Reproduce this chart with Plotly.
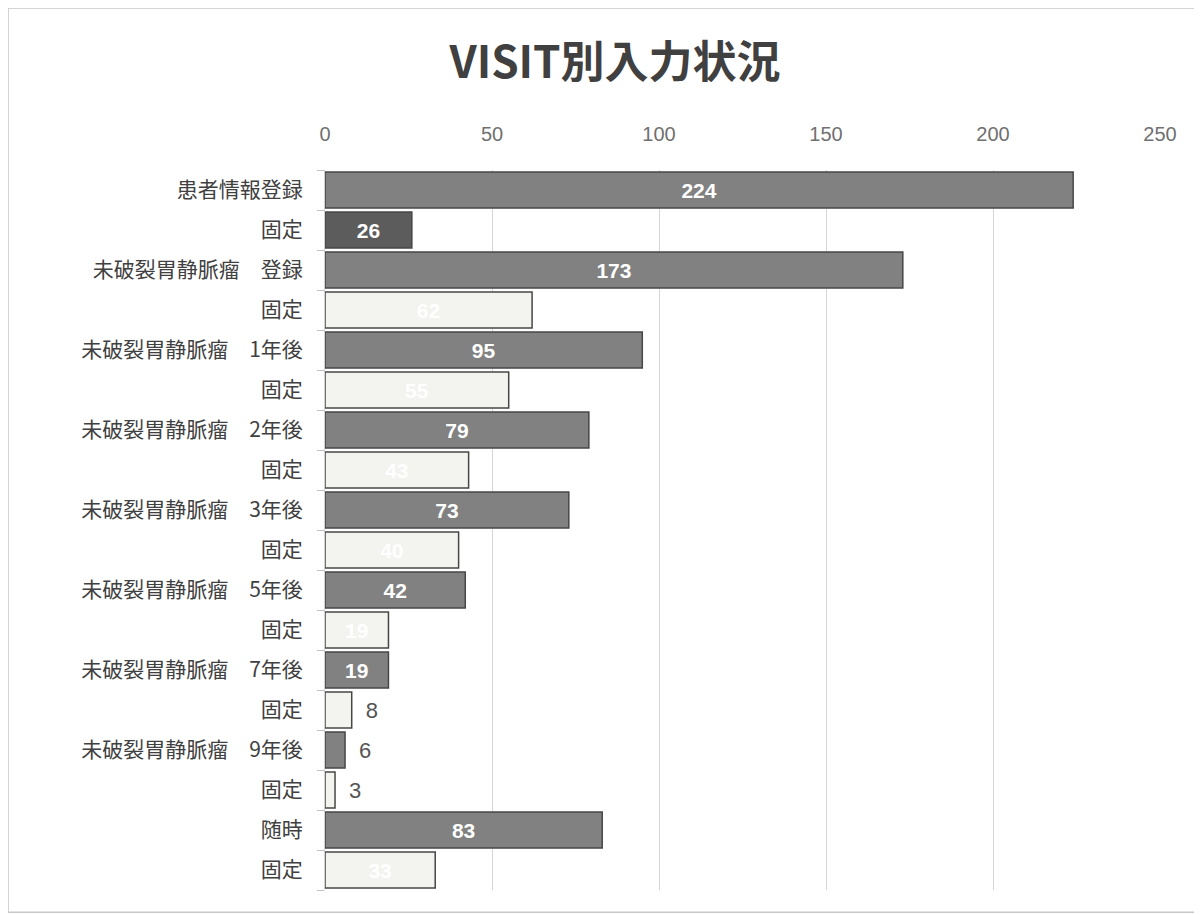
import plotly.graph_objects as go

categories = [
    "患者情報登録", "固定",
    "未破裂胃静脈瘤　登録", "固定",
    "未破裂胃静脈瘤　1年後", "固定",
    "未破裂胃静脈瘤　2年後", "固定",
    "未破裂胃静脈瘤　3年後", "固定",
    "未破裂胃静脈瘤　5年後", "固定",
    "未破裂胃静脈瘤　7年後", "固定",
    "未破裂胃静脈瘤　9年後", "固定",
    "随時", "固定",
]
values = [224, 26, 173, 62, 95, 55, 79, 43, 73, 40, 42, 19, 19, 8, 6, 3, 83, 33]
x_ticks = [0, 50, 100, 150, 200, 250]

positions = list(range(len(categories)))

def bar_color(i):
    if i == 1:
        return "#5c5c5c"
    if i % 2 == 0:
        return "#818181"
    return "#f3f3ef"

colors = [bar_color(i) for i in range(len(values))]
outside = [v < 10 for v in values]
text_pos = ["outside" if o else "inside" for o in outside]
labels = [("\u2002" + str(v)) if o else "<b>" + str(v) + "</b>" for v, o in zip(values, outside)]

fig = go.Figure(go.Bar(
    x=values,
    y=positions,
    orientation="h",
    marker=dict(color=colors, line=dict(color="#474747", width=1.5)),
    text=labels,
    textposition=text_pos,
    insidetextanchor="middle",
    textangle=0,
    outsidetextfont=dict(color="#555555", size=22, family="Liberation Sans, Arial, sans-serif"),
    insidetextfont=dict(color="white", size=21, family="Liberation Sans, Arial, sans-serif"),
    cliponaxis=False,
    width=0.9,
))

fig.update_layout(
    width=1202, height=915,
    paper_bgcolor="white", plot_bgcolor="white",
    margin=dict(l=317, r=50, t=162, b=33),
    title=dict(
        text="<b>VISIT別入力状況</b>",
        x=0.505, xanchor="center", y=0.94, yanchor="middle",
        font=dict(size=44, color="#404040", family="Noto Sans CJK JP, sans-serif"),
    ),
    showlegend=False,
    uniformtext=dict(mode=False),
    shapes=[dict(type="rect", xref="paper", yref="paper",
                 x0=-0.3796, x1=1.042, y0=-0.031, y1=1.225,
                 line=dict(color="#c8c8c8", width=1.5))],
)

fig.update_xaxes(
    range=[0, 250], side="top",
    tickvals=x_ticks, ticktext=[str(t) for t in x_ticks],
    tickfont=dict(size=20, color="#707070", family="Liberation Sans, Arial, sans-serif"),
    showgrid=True, gridcolor="#d6d6d6", gridwidth=1,
    zeroline=False, showline=False, ticks="", ticklen=0,
    ticklabelstandoff=24,
)
fig.update_yaxes(
    range=[len(categories) - 0.5, -0.5],
    tickvals=positions, ticktext=categories,
    tickfont=dict(size=21, color="#404040", family="Noto Sans CJK JP, sans-serif"),
    showgrid=False, zeroline=False,
    showline=True, linecolor="#d0d0d0", linewidth=1,
    ticks="", ticklabelstandoff=17,
    minor=dict(tick0=0.5, dtick=1, ticks="outside", ticklen=7,
               tickcolor="#c0c0c0", showgrid=False),
)

fig.write_html("out.html")
